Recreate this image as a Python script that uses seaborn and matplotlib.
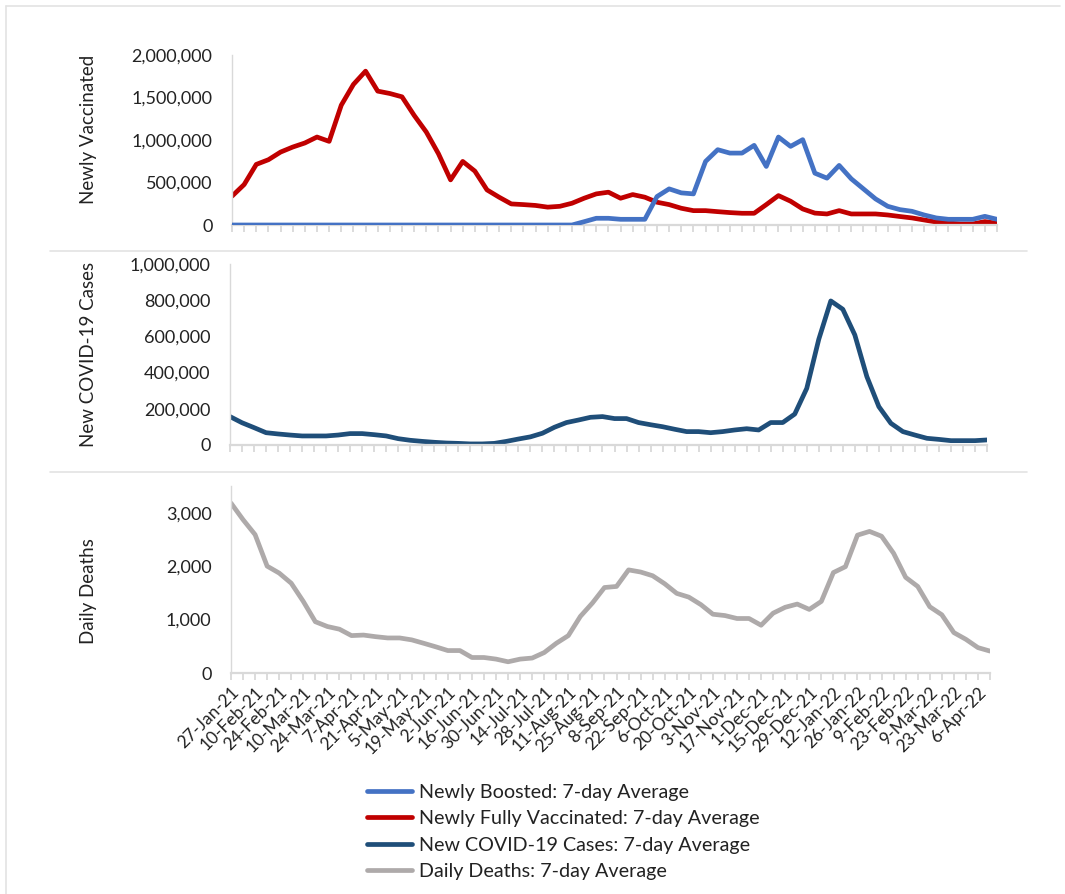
import matplotlib
matplotlib.use("Agg")
import matplotlib.pyplot as plt
import seaborn as sns
import pandas as pd
from matplotlib.lines import Line2D
from matplotlib.ticker import FuncFormatter

# ---------------- data (weekly, 7-day averages) ----------------
dates = pd.date_range("2021-01-27", periods=64, freq="7D")
week = list(range(64))

boosted = [0]*28 + [
    0, 39000, 79000, 79000, 67000, 67000, 67000, 335000, 425000, 378000,
    366000, 748000, 886000, 846000, 846000, 937000, 689000, 1035000, 925000, 1004000,
    610000, 551000, 701000, 543000, 425000, 307000, 220000, 181000, 161000, 118000,
    83000, 67000, 67000, 67000, 102000, 67000]

fully_vaccinated = [
    339000, 476000, 713000, 768000, 858000, 917000, 965000, 1035000, 984000, 1410000,
    1654000, 1810000, 1575000, 1547000, 1508000, 1290000, 1094000, 839000, 531000, 748000,
    634000, 413000, 327000, 248000, 240000, 230000, 210000, 220000, 256000, 315000,
    366000, 386000, 315000, 358000, 327000, 268000, 240000, 197000, 169000, 169000,
    157000, 146000, 138000, 138000, 240000, 346000, 280000, 189000, 140000, 130000,
    169000, 130000, 130000, 130000, 118000, 100000, 83000, 59000, 35000, 24000,
    12000, 12000, 40000, 20000]

cases = [
    157000, 123000, 96000, 68000, 61000, 55000, 50000, 50000, 50000, 55000,
    63000, 63000, 57000, 50000, 35000, 26000, 20000, 15000, 11000, 9000,
    6000, 6000, 9000, 20000, 33000, 45000, 65000, 98000, 124000, 138000,
    153000, 157000, 146000, 146000, 124000, 112000, 101000, 87000, 74000, 74000,
    68000, 74000, 83000, 90000, 83000, 124000, 124000, 171000, 313000, 584000,
    796000, 750000, 608000, 378000, 212000, 120000, 74000, 55000, 37000, 31000,
    24000, 24000, 24000, 28000]

deaths = [
    3180, 2870, 2590, 2000, 1870, 1680, 1340, 960, 870, 820,
    700, 710, 680, 656, 656, 620, 556, 490, 420, 420,
    290, 290, 260, 210, 260, 280, 383, 556, 700, 1060,
    1310, 1600, 1620, 1930, 1890, 1820, 1670, 1490, 1420, 1280,
    1100, 1075, 1020, 1020, 894, 1120, 1230, 1290, 1190, 1340,
    1880, 1990, 2580, 2650, 2560, 2240, 1790, 1620, 1240, 1090,
    756, 630, 475, 410]

tick_labels = [f"{d.day}-{d.strftime('%b-%y')}" for d in dates]

labels = ["Newly Boosted: 7-day Average",
          "Newly Fully Vaccinated: 7-day Average",
          "New COVID-19 Cases: 7-day Average",
          "Daily Deaths: 7-day Average"]
colors = ["#4472C4", "#C00000", "#1F4E79", "#AEAAAA"]

df = pd.DataFrame({"week": week, "boosted": boosted, "fully": fully_vaccinated,
                   "cases": cases, "deaths": deaths})

# ---------------- style ----------------
sns.set_theme(style="white")
plt.rcParams['font.family'] = ['Lato', 'DejaVu Sans']
TXT = "#222222"
AXC = "#D9D9D9"

W, H = 1065, 894
fig = plt.figure(figsize=(W/100, H/100), dpi=100)

def add_ax(x0, x1, ytop, ybot):
    return fig.add_axes([x0/W, 1-ybot/H, (x1-x0)/W, (ybot-ytop)/H])

ax1 = add_ax(232, 997, 55, 225)
ax2 = add_ax(230, 987, 264, 445)
ax3 = add_ax(231, 990, 486, 673)

LW = 3.4
sns.lineplot(data=df, x="week", y="boosted", ax=ax1, color=colors[0], lw=LW, zorder=3)
sns.lineplot(data=df, x="week", y="fully", ax=ax1, color=colors[1], lw=LW, zorder=2)
sns.lineplot(data=df, x="week", y="cases", ax=ax2, color=colors[2], lw=LW)
sns.lineplot(data=df, x="week", y="deaths", ax=ax3, color=colors[3], lw=LW)

fmt = FuncFormatter(lambda v, p: f"{v:,.0f}")
setups = [(ax1, "Newly Vaccinated", (0, 2000000), [0, 500000, 1000000, 1500000, 2000000], 0.56),
          (ax2, "New COVID-19 Cases", (0, 1000000), [0, 200000, 400000, 600000, 800000, 1000000], 0.5),
          (ax3, "Daily Deaths", (0, 3500), [0, 1000, 2000, 3000], 0.44)]

for ax, ylab, ylim, yt, ly in setups:
    ax.set_xlim(0, 63)
    ax.set_ylim(*ylim)
    ax.set_yticks(yt)
    ax.yaxis.set_major_formatter(fmt)
    ax.set_xticks(week)
    ax.set_xticklabels([])
    ax.tick_params(axis="y", length=0, pad=14, labelsize=13, labelcolor=TXT)
    ax.tick_params(axis="x", bottom=True, length=5, width=1.3, color=AXC, direction="out")
    for s in ["top", "right"]:
        ax.spines[s].set_visible(False)
    ax.spines["left"].set_color(AXC)
    ax.spines["left"].set_linewidth(1.0)
    ax.spines["bottom"].set_color(AXC)
    ax.spines["bottom"].set_linewidth(1.6)
    ax.set_xlabel("")
    ax.set_ylabel(ylab, fontsize=13.5, color=TXT)
    x0 = ax.get_position().x0 * W
    wpx = ax.get_position().width * W
    ax.yaxis.set_label_coords((97 - x0) / wpx, ly)
    ax.patch.set_alpha(0)

ax3.set_xticklabels([lab if i % 2 == 0 else "" for i, lab in enumerate(tick_labels)],
                    rotation=45, ha="right", rotation_mode="anchor", fontsize=12.5, color=TXT)
ax3.tick_params(axis="x", pad=3)

# separators and frame
for y in [251, 472]:
    fig.add_artist(Line2D([50/W, 1027/W], [1-y/H, 1-y/H], color="#E3E3E3", lw=1.2))
fig.add_artist(Line2D([6/W, 6/W], [0, 1-6/H], color="#E3E3E3", lw=1.2))
fig.add_artist(Line2D([6/W, 1060/W], [1-6/H, 1-6/H], color="#E3E3E3", lw=1.2))

handles = [Line2D([], [], color=c, lw=LW) for c in colors]
fig.legend(handles, labels, loc="upper left", bbox_to_anchor=(367/W, 1-784/H),
           frameon=False, fontsize=14.2, handlelength=2.3, handletextpad=0.35,
           labelspacing=0.47, borderaxespad=0, borderpad=0, labelcolor=TXT)

fig.savefig("out.png", dpi=100, facecolor="white")
